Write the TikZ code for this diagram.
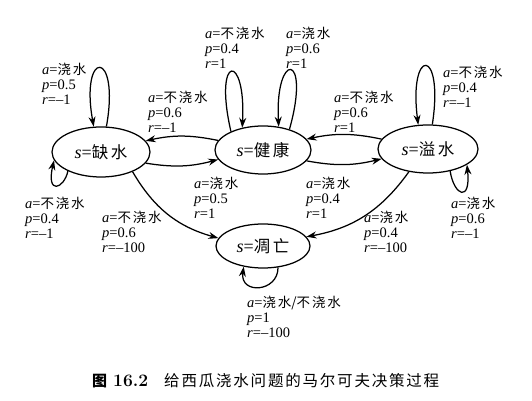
\documentclass[tikz,border=0pt]{standalone}
\usepackage{fontspec}
\newfontfamily\tms{Liberation Serif}
\newfontfamily\cjk{Noto Sans CJK SC}
\usetikzlibrary{shapes.geometric,arrows.meta}
\tikzset{
  mdpstate/.style={ellipse, draw, line width=1.25pt, inner sep=0pt, font=\tms\fontsize{18}{20}\selectfont},
  arr/.style={-{Stealth[length=10pt,width=7pt]}, line width=1.25pt},
  lbl/.style={anchor=north west, inner sep=0pt, align=left, font=\tms\fontsize{14.5}{15}\selectfont},
  figcap/.style={anchor=west, inner sep=0pt},
}
\newcommand\js{\kern1.8pt}
\newcommand\lc[1]{{\cjk\fontsize{13.5}{15}\selectfont #1}}
\newcommand\mdplab[3]{\textit{a}=#1\\\textit{p}=#2\\\textit{r}=#3}
\newcommand\stname[2]{\textit{s}={\cjk\fontsize{16.5}{20}\selectfont #1\kern2.5pt #2}}
\begin{document}
\begin{tikzpicture}[x=1pt,y=1pt]
\useasboundingbox (0,0) rectangle (532,401);
% states
\node[mdpstate, minimum width=98pt, minimum height=50pt] (Q) at (101,249) {\stname{缺}{水}};
\node[mdpstate, minimum width=96pt, minimum height=48pt] (J) at (263,251) {\stname{健}{康}};
\node[mdpstate, minimum width=100pt, minimum height=48pt] (Y) at (428,252) {\stname{溢}{水}};
\node[mdpstate, minimum width=94pt, minimum height=44pt] (D) at (263,155) {\stname{凋}{亡}};
% transitions between states
\draw[arr] (J.168) to[bend right=12] (Q.14);
\draw[arr] (Q.-14) to[bend right=12] (J.-168);
\draw[arr] (Y.168) to[bend right=12] (J.14);
\draw[arr] (J.-14) to[bend right=12] (Y.-168);
\draw[arr] (Q.-32) to[bend right=22] (D.170);
\draw[arr] (Y.-130) to[bend left=22] (D.12);
% self loops
\draw[arr] (Q.78) .. controls +(14,78) and +(-14,78) .. (Q.106);
\draw[arr] (J.150) .. controls +(-18,78) and +(4,76) .. (J.133);
\draw[arr] (J.38) .. controls +(22,78) and +(-4,76) .. (J.56);
\draw[arr] (Y.80) .. controls +(12,78) and +(-10,78) .. (Y.112);
\draw[arr] (Q.-150) .. controls +(-4,-18) and +(-8,-35) .. (Q.-170);
\draw[arr] (Y.-45) .. controls +(4,-25) and +(4,-38) .. (Y.-22);
\draw[arr] (D.-55) .. controls +(0,-25) and +(-4,-28) .. (D.-133);
% labels
\node[lbl] (l1) at (42,338) {\mdplab{\lc{浇\js 水}}{0.5}{\textendash1}};
\node[lbl] (l2) at (205,374) {\mdplab{\lc{不\js 浇\js 水}}{0.4}{1}};
\node[lbl] (l3) at (286,374) {\mdplab{\lc{浇\js 水}}{0.6}{1}};
\node[lbl] (l4) at (148,310) {\mdplab{\lc{不\js 浇\js 水}}{0.6}{\textendash1}};
\node[lbl] (l5) at (334,310) {\mdplab{\lc{不\js 浇\js 水}}{0.6}{1}};
\node[lbl] (l6) at (443,335) {\mdplab{\lc{不\js 浇\js 水}}{0.4}{\textendash1}};
\node[lbl] (l7) at (25,204) {\mdplab{\lc{不\js 浇\js 水}}{0.4}{\textendash1}};
\node[lbl] (l8) at (102,190) {\mdplab{\lc{不\js 浇\js 水}}{0.6}{\textendash100}};
\node[lbl] (l9) at (194,224) {\mdplab{\lc{浇\js 水}}{0.5}{1}};
\node[lbl] (l10) at (306,224) {\mdplab{\lc{浇\js 水}}{0.4}{1}};
\node[lbl] (l11) at (364,190) {\mdplab{\lc{浇\js 水}}{0.4}{\textendash100}};
\node[lbl] (l12) at (451,204) {\mdplab{\lc{浇\js 水}}{0.6}{\textendash1}};
\node[lbl] (l13) at (247,105) {\mdplab{\lc{浇\js 水/不\js 浇\js 水}}{1}{\textendash100}};
% caption
\node[figcap] (caption) at (92,20) {{\cjk\bfseries\fontsize{15}{18}\selectfont 图}\hspace{6pt}{\bfseries\fontsize{17.5}{20}\selectfont 16.2}\hspace{16pt}{\cjk\fontsize{15.5}{18}\selectfont 给\js 西\js 瓜\js 浇\js 水\js 问\js 题\js 的\js 马\js 尔\js 可\js 夫\js 决\js 策\js 过\js 程}};
\end{tikzpicture}
\end{document}
